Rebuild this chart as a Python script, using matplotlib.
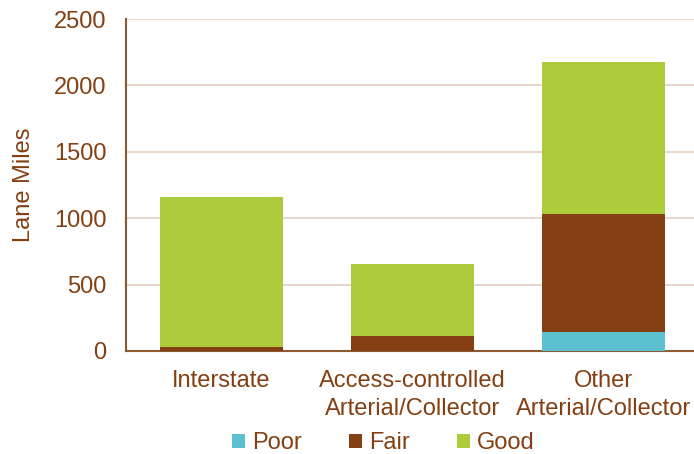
import matplotlib
matplotlib.use("Agg")
import matplotlib.pyplot as plt
import numpy as np

categories = ["Interstate", "Access-controlled\nArterial/Collector", "Other\nArterial/Collector"]
poor = [0, 0, 140]
fair = [32, 112, 892]
good = [1128, 543, 1146]
series_names = ["Poor", "Fair", "Good"]
colors = ["#5BC1D0", "#843F12", "#AECB3B"]
text_color = "#843F12"

plt.rcParams['font.family'] = ['Liberation Sans', 'DejaVu Sans']

fig = plt.figure(figsize=(6.94, 4.54), dpi=100)
ax = fig.add_axes([0.1816, 0.2269, 0.825, 0.731])

x = np.arange(len(categories))
w = 0.645
bottom = np.zeros(len(categories))
for vals, name, c in zip([poor, fair, good], series_names, colors):
    ax.bar(x, vals, w, bottom=bottom, color=c, label=name, zorder=3)
    bottom += np.array(vals)

ax.set_xlim(-0.5, len(categories) - 0.5)
ax.set_ylim(0, 2500)
ax.set_yticks(np.arange(0, 2501, 500))
ax.yaxis.grid(True, color="#E3CFC3", linewidth=1.2, zorder=0)
ax.set_axisbelow(True)
for s in ["top", "right"]:
    ax.spines[s].set_visible(False)
for s in ["left", "bottom"]:
    ax.spines[s].set_color("#8B5A32")
    ax.spines[s].set_linewidth(1.5)
ax.tick_params(axis="y", length=0, pad=14, labelsize=17, labelcolor=text_color)
ax.tick_params(axis="x", length=0, pad=14, labelsize=17, labelcolor=text_color)
ax.set_xticks(x)
ax.set_xticklabels(categories, linespacing=1.3)
ax.set_ylabel("Lane Miles", fontsize=17, color=text_color, labelpad=14)

leg = fig.legend(loc="center", bbox_to_anchor=(0.552, 0.024), ncol=3, frameon=False,
                 fontsize=17, handlelength=0.55, handleheight=0.55, handletextpad=0.3,
                 columnspacing=2.0, borderpad=0)
for t in leg.get_texts():
    t.set_color(text_color)

fig.savefig("out.png", dpi=100)
